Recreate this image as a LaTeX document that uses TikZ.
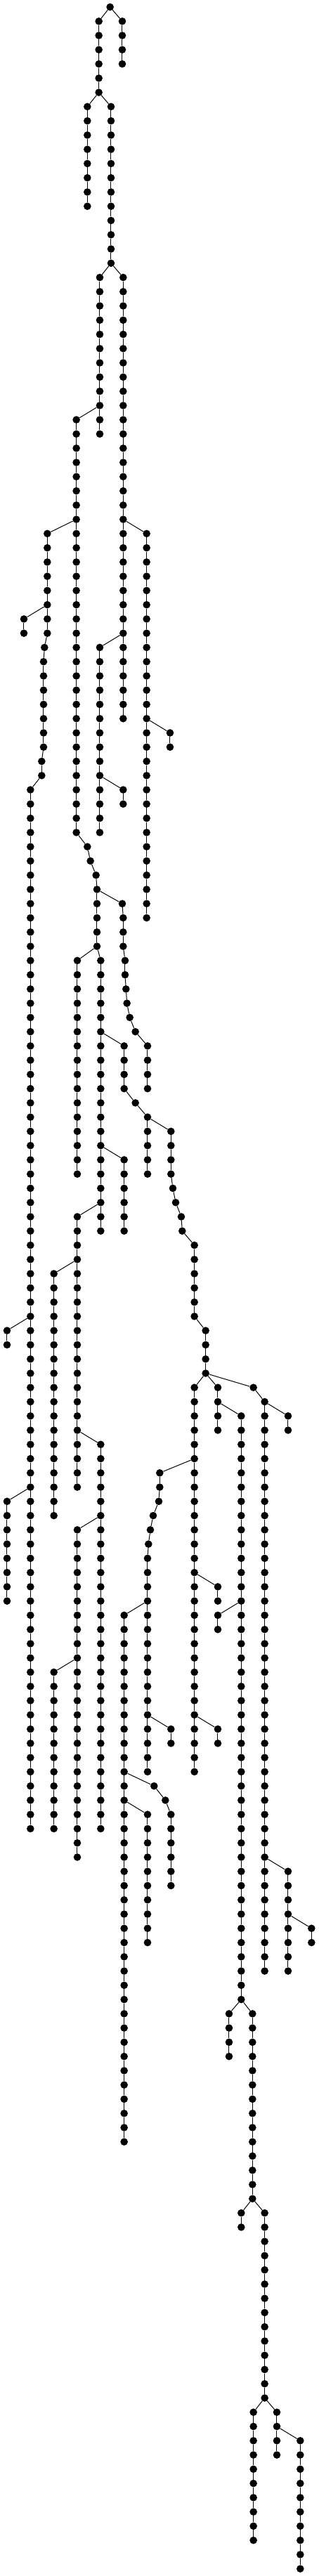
\documentclass[tikz,border=0pt]{standalone}
\tikzset{dot/.style={circle,fill=black,draw=none,inner sep=0pt,minimum size=10.6pt},
 edge/.style={line width=1pt,black}}
\newcommand\nd[3]{\node[dot] (#1-#3) at (#2,#3) {};}
\newcommand\vc[4]{\foreach \lv in {#3,...,#4}{\node[dot] (#1-\lv) at (#2,\lv) {};}}
\newcommand\lk[3]{\foreach \lv in {#2,...,#3}{\pgfmathtruncatemacro\nxt{\lv+1}\draw[edge] (#1-\lv) -- (#1-\nxt);}}
\newcommand\br[2]{\draw[edge] (#1) -- (#2);}
\begin{document}
\begin{tikzpicture}[x=0.333333pt,y=-20.265pt]
\useasboundingbox (0,-0.4935) rectangle (1362,180.51);
% nodes
\nd{R}{470}{0}
\vc{A}{422}{1}{6}
\vc{B}{522}{1}{4}
\vc{C}{373}{7}{14}
\vc{D}{474}{7}{18}
\vc{E}{426}{19}{30}
\vc{F}{526}{19}{50}
\vc{G}{326}{29}{58}\nd{G}{373}{59}\nd{G}{386}{60}\nd{G}{410}{61}\vc{G}{414}{62}{66}\vc{G}{430}{67}{86}
\vc{H}{202}{37}{44}\nd{H}{190}{45}\vc{H}{186}{46}{52}\vc{H}{178}{53}{54}\vc{H}{130}{55}{128}
\vc{I}{626}{37}{64}
\vc{J}{426}{45}{58}
\vc{K}{102}{43}{44}
\vc{Jb}{526}{55}{56}
\vc{Ib}{726}{51}{52}
\nd{M}{522}{63}\vc{M}{526}{64}{66}\vc{M}{534}{67}{68}\nd{M}{538}{69}\nd{M}{542}{70}\nd{M}{554}{71}\nd{M}{578}{72}\vc{M}{630}{73}{76}
\vc{N}{330}{67}{82}
\vc{O}{530}{73}{76}\nd{O}{578}{77}\vc{O}{630}{78}{82}
\vc{P}{530}{81}{86}
\vc{Q}{330}{85}{104}
\vc{S}{730}{79}{82}\nd{S}{738}{83}\nd{S}{750}{84}\nd{S}{774}{85}\nd{S}{778}{86}\vc{S}{830}{87}{92}\vc{S}{878}{93}{96}
\vc{T}{230}{89}{106}
\vc{U}{30}{93}{94}
\vc{V}{30}{105}{112}
\vc{W}{430}{101}{128}
\vc{X}{830}{97}{124}
\vc{Z}{930}{97}{100}
\nd{AB}{1082}{97}\vc{AB}{1130}{98}{138}
\vc{AA}{1030}{99}{140}
\vc{AC}{1230}{99}{100}
\vc{Y}{682}{103}{104}\nd{Y}{678}{105}\nd{Y}{654}{106}\nd{Y}{642}{107}\nd{Y}{634}{108}\vc{Y}{630}{109}{124}
\vc{AD}{330}{107}{130}
\vc{AE}{230}{117}{128}
\vc{AF}{530}{113}{150}
\vc{AG}{930}{111}{112}
\vc{AH}{930}{113}{114}
\nd{AI}{658}{125}\nd{AI}{706}{126}\vc{AI}{730}{127}{132}
\vc{AJ}{630}{127}{136}
\vc{AK}{730}{121}{122}
\vc{AL}{930}{121}{122}
\vc{AM}{1230}{131}{138}
\vc{AN}{1330}{135}{136}
\vc{AO}{978}{141}{144}
\vc{AP}{1078}{141}{154}
\vc{AQ}{1030}{155}{156}
\vc{AR}{1130}{155}{168}
\vc{AS}{1082}{169}{178}
\vc{AT}{1182}{169}{172}
\vc{AU}{1282}{171}{180}
% chain links
\lk{A}{1}{5}\lk{B}{1}{3}\lk{C}{7}{13}\lk{D}{7}{17}\lk{E}{19}{29}\lk{F}{19}{49}
\lk{G}{29}{85}\lk{H}{37}{127}\lk{I}{37}{63}\lk{J}{45}{57}\lk{K}{43}{43}
\lk{Jb}{55}{55}\lk{Ib}{51}{51}\lk{M}{63}{75}\lk{N}{67}{81}\lk{O}{73}{81}
\lk{P}{81}{85}\lk{Q}{85}{103}\lk{S}{79}{95}\lk{T}{89}{105}\lk{U}{93}{93}
\lk{V}{105}{111}\lk{W}{101}{127}\lk{X}{97}{123}\lk{Z}{97}{99}\lk{AB}{97}{137}
\lk{AA}{99}{139}\lk{AC}{99}{99}\lk{Y}{103}{123}\lk{AD}{107}{129}\lk{AE}{117}{127}
\lk{AF}{113}{149}\lk{AG}{111}{111}\lk{AH}{113}{113}\lk{AI}{125}{131}\lk{AJ}{127}{135}
\lk{AK}{121}{121}\lk{AL}{121}{121}\lk{AM}{131}{137}\lk{AN}{135}{135}\lk{AO}{141}{143}
\lk{AP}{141}{153}\lk{AQ}{155}{155}\lk{AR}{155}{167}\lk{AS}{169}{177}\lk{AT}{169}{171}
\lk{AU}{171}{179}
% branches
\br{R-0}{A-1}\br{R-0}{B-1}\br{A-6}{C-7}\br{A-6}{D-7}\br{D-18}{E-19}\br{D-18}{F-19}
\br{E-28}{G-29}\br{G-36}{H-37}\br{F-36}{I-37}\br{F-44}{J-45}\br{H-42}{K-43}
\br{J-54}{Jb-55}\br{I-50}{Ib-51}\br{G-62}{M-63}\br{G-66}{N-67}\br{G-72}{O-73}
\br{G-80}{P-81}\br{G-84}{Q-85}\br{O-78}{S-79}\br{Q-88}{T-89}\br{H-92}{U-93}
\br{H-104}{V-105}\br{Q-100}{W-101}\br{S-96}{X-97}\br{S-96}{Z-97}\br{S-96}{AB-97}
\br{Z-98}{AA-99}\br{AB-98}{AC-99}\br{X-102}{Y-103}\br{W-106}{AD-107}\br{AD-116}{AE-117}
\br{Y-112}{AF-113}\br{X-110}{AG-111}\br{AA-112}{AH-113}\br{AF-124}{AI-125}\br{AF-126}{AJ-127}
\br{Y-120}{AK-121}\br{X-120}{AL-121}\br{AB-130}{AM-131}\br{AM-134}{AN-135}\br{AA-140}{AO-141}
\br{AA-140}{AP-141}\br{AP-154}{AQ-155}\br{AP-154}{AR-155}\br{AR-168}{AS-169}\br{AR-168}{AT-169}
\br{AT-170}{AU-171}
\end{tikzpicture}
\end{document}
